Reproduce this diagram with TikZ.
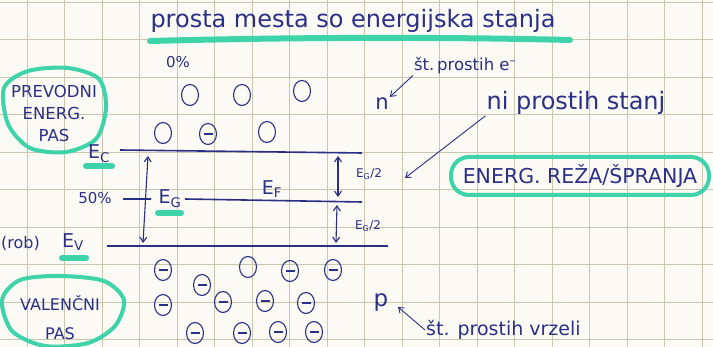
\documentclass[tikz,border=0pt]{standalone}
\usepackage{fontspec}
\setmainfont{DejaVu Sans}
\usetikzlibrary{arrows.meta,shapes.geometric}
\definecolor{noteInk}{HTML}{2B2F86}
\definecolor{noteMarker}{HTML}{3ED3A8}
\definecolor{notePaper}{HTML}{FBFAF4}
\definecolor{noteGrid}{HTML}{CBC7AE}

\begin{document}
\begin{tikzpicture}[x=1pt,y=-1pt,text=noteInk,
  font=\fontsize{16}{18}\selectfont,
  level/.style={draw=noteInk,line width=1.6pt},
  emptystate/.style={ellipse,draw=noteInk,line width=1.1pt,minimum width=17pt,minimum height=21pt,inner sep=0pt},
  fullstate/.style={emptystate,path picture={\draw[noteInk,line width=1.1pt]
    ([xshift=-4.5pt]path picture bounding box.center)--([xshift=4.5pt]path picture bounding box.center);}},
  marker/.style={draw=noteMarker,line width=6pt,line cap=round},
  blob/.style={draw=noteMarker,line width=4pt},
  pointer/.style={draw=noteInk,line width=0.9pt,-{Straight Barb[length=5pt,width=7pt]}},
  gaparrow/.style={draw=noteInk,line width=1.1pt,{Straight Barb[length=5pt,width=7pt]}-{Straight Barb[length=5pt,width=7pt]}},
  handlabel/.style={inner sep=1pt}]
  \fill[notePaper] (0,0) rectangle (713,347);
  \path[use as bounding box] (0,0) rectangle (713,347);
  \clip (0,0) rectangle (713,347);

  % squared paper
  \foreach \gx in {27,64.5,...,710}
    {\draw[noteGrid,line width=0.9pt] (\gx,0)--(\gx,347);}
  \foreach \gy in {2,39.5,...,347}
    {\draw[noteGrid,line width=0.9pt] (0,\gy)--(713,\gy);}

  % title with highlighter
  \draw[marker] (150,41) .. controls (300,37) and (450,37) .. (570,40);
  \node[handlabel,font=\fontsize{24}{26}\selectfont] (title) at (353,21) {prosta mesta so energijska stanja};

  % band names
  \draw[blob] plot[smooth cycle] coordinates {(4,88) (28,71) (68,68) (99,79) (106,108) (96,139) (66,152) (30,148) (8,124)};
  \node[handlabel,align=center,font=\fontsize{16.5}{22}\selectfont] (cband) at (54,113) {PREVODNI\\ENERG.\\PAS};
  \draw[blob] plot[smooth cycle] coordinates {(2,300) (20,280) (60,276) (104,281) (124,300) (115,326) (88,343) (45,346) (12,331)};
  \node[handlabel,align=center,font=\fontsize{16}{29}\selectfont] (vband) at (60,318) {VALENČNI\\PAS};

  % energy levels
  \coordinate (ecL) at (120,150); \coordinate (ecR) at (362,153);
  \coordinate (efA) at (123,199); \coordinate (efB) at (151,199);
  \coordinate (efL) at (185,199); \coordinate (efR) at (362,202);
  \coordinate (evL) at (107,246); \coordinate (evR) at (388,246);
  \draw[level] (ecL)--(ecR);
  \draw[level] (efA)--(efB) (efL)--(efR);
  \draw[level] (evL)--(evR);

  \draw[marker] (86,166)--(112,166);
  \draw[marker] (158,213)--(181,213);
  \draw[marker] (62,258)--(86,258);
  \node[handlabel,font=\fontsize{19}{21}\selectfont] (ec) at (99,154) {E\textsubscript{C}};
  \node[handlabel,font=\fontsize{19}{21}\selectfont] (eg) at (170,199) {E\textsubscript{G}};
  \node[handlabel,font=\fontsize{19}{21}\selectfont] (ef) at (272,189) {E\textsubscript{F}};
  \node[handlabel,font=\fontsize{19}{21}\selectfont] (ev) at (73,242) {E\textsubscript{V}};
  \node[handlabel,anchor=east] (rob) at (41,243) {(rob)};
  \node[handlabel,font=\fontsize{15}{17}\selectfont] (half) at (95,198) {50\%};
  \node[handlabel,font=\fontsize{15}{17}\selectfont] (zero) at (178,62) {0\%};

  % gap arrows
  \coordinate (gTop) at (148,156); \coordinate (gBot) at (143,243);
  \coordinate (h1Top) at (338,156); \coordinate (h1Bot) at (338,197);
  \coordinate (h2Top) at (337,205); \coordinate (h2Bot) at (336,243);
  \draw[gaparrow] (gTop)--(gBot);
  \draw[gaparrow] (h1Top)--(h1Bot);
  \draw[gaparrow] (h2Top)--(h2Bot);
  \node[handlabel,font=\fontsize{12}{14}\selectfont] (egh1) at (369,174) {E\textsubscript{G}/2};
  \node[handlabel,font=\fontsize{12}{14}\selectfont] (egh2) at (368,226) {E\textsubscript{G}/2};

  % states
  \foreach \v/\x/\y in {c1/190/95,c2/242/95,c3/302/91,c4/163/133,c6/267/132,v3/248/267}
    {\node[emptystate] (\v) at (\x,\y) {};}
  \foreach \v/\x/\y in {c5/208/134,v1/163/270,v4/290/271,v5/333/270,v6/202/285,v7/163/305,
      v8/223/302,v9/265/301,v10/306/303,v11/195/333,v12/242/333,v13/278/332,v14/314/332}
    {\node[fullstate] (\v) at (\x,\y) {};}

  % side notes
  \node[handlabel,font=\fontsize{21}{23}\selectfont] (n) at (382,104) {n};
  \node[handlabel,font=\fontsize{16.5}{18}\selectfont] (ste) at (465,66) {št.\,prostih e\textsuperscript{–}};
  \draw[pointer] (ste.south west)--(n.north east);

  \node[handlabel,font=\fontsize{24}{26}\selectfont] (ni) at (576,103) {ni prostih stanj};
  \coordinate (gapTip) at (405,178);
  \draw[pointer] (ni.south west)--(gapTip);

  \node[draw=noteMarker,line width=4pt,rounded corners=18pt,minimum width=258pt,minimum height=38pt,
    inner sep=2pt,font=\fontsize{20.5}{22}\selectfont] (gap) at (580,176) {ENERG.\ REŽA/ŠPRANJA};

  \node[handlabel,font=\fontsize{23}{25}\selectfont] (p) at (381,302) {p};
  \node[handlabel,anchor=west,font=\fontsize{19}{21}\selectfont] (vrz) at (425,330) {št. prostih vrzeli};
  \coordinate (pTip) at (398,307);
  \draw[pointer] (vrz.west)--(pTip);
\end{tikzpicture}
\end{document}
